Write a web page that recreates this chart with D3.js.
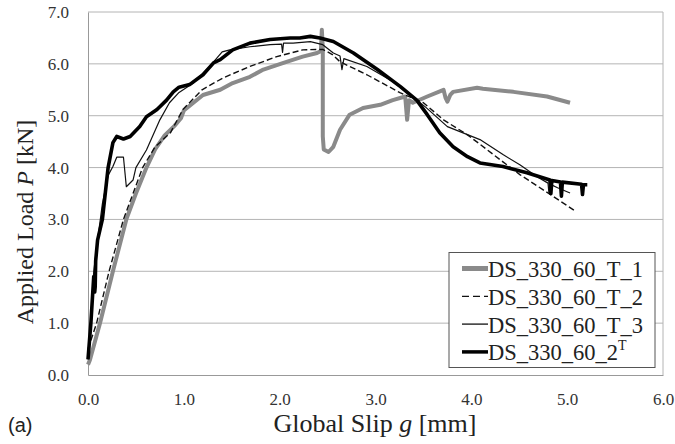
<!DOCTYPE html>
<html>
<head>
<meta charset="utf-8">
<script src="https://cdn.jsdelivr.net/npm/d3@7"></script>
<style>
  body { margin: 0; background: #fff; }
  svg { display: block; }
</style>
</head>
<body>
<svg class="chartSVG"></svg>
<script>
const svgWidth = 675;
const svgHeight = 444;
const serif = "'Liberation Serif', 'Times New Roman', 'DejaVu Serif', serif";

// tick labels
const xTicks = [0, 1, 2, 3, 4, 5, 6];
const yTicks = [0, 1, 2, 3, 4, 5, 6, 7];

// series names
const seriesNames = ["DS_330_60_T_1", "DS_330_60_T_2", "DS_330_60_T_3", "DS_330_60_2"];

// DS_330_60_T_1 (grey)
const slipT1 = [0, 0.02, 0.125, 0.26, 0.4, 0.5, 0.61, 0.7, 0.8, 0.9, 0.97, 1.0, 1.1, 1.2, 1.38, 1.51, 1.69, 1.83, 2.04, 2.24, 2.39, 2.43, 2.44, 2.45, 2.45, 2.46, 2.51, 2.56, 2.63, 2.73, 2.87, 3.05, 3.18, 3.31, 3.33, 3.35, 3.39, 3.54, 3.71, 3.73, 3.75, 3.78, 3.81, 4.06, 4.12, 4.44, 4.79, 5.03];
const loadT1 = [0.2, 0.29, 1.0, 2.0, 3.0, 3.5, 4.0, 4.35, 4.62, 4.8, 4.95, 5.1, 5.25, 5.4, 5.5, 5.63, 5.75, 5.89, 6.02, 6.14, 6.21, 6.25, 6.66, 6.3, 4.6, 4.35, 4.3, 4.4, 4.73, 5.02, 5.15, 5.21, 5.3, 5.37, 4.92, 5.3, 5.25, 5.37, 5.5, 5.35, 5.27, 5.4, 5.46, 5.54, 5.52, 5.46, 5.37, 5.25];

// DS_330_60_T_2 (dashed)
const slipT2 = [0, 0.09, 0.22, 0.37, 0.47, 0.57, 0.7, 0.86, 0.99, 1.19, 1.41, 1.69, 1.97, 2.24, 2.45, 2.55, 2.63, 2.91, 3.26, 3.5, 3.71, 3.96, 4.09, 4.33, 4.51, 4.75, 5.07];
const loadT2 = [0.5, 1.0, 2.0, 3.0, 3.5, 4.0, 4.4, 4.67, 5.12, 5.5, 5.73, 5.95, 6.14, 6.27, 6.28, 6.18, 6.04, 5.79, 5.44, 5.25, 4.92, 4.63, 4.45, 4.11, 3.86, 3.57, 3.18];

// DS_330_60_T_3 (thin)
const slipT3 = [0, 0.03, 0.06, 0.1, 0.15, 0.21, 0.26, 0.3, 0.37, 0.4, 0.47, 0.5, 0.61, 0.75, 0.85, 0.95, 1.1, 1.27, 1.4, 1.48, 1.69, 1.9, 2.02, 2.03, 2.04, 2.14, 2.32, 2.45, 2.56, 2.63, 2.65, 2.67, 2.91, 3.18, 3.43, 3.52, 3.75, 4.09, 4.33, 4.51, 4.69, 4.8, 4.81, 4.82, 4.9, 5.03];
const loadT3 = [0.3, 1.0, 2.0, 2.6, 3.3, 3.85, 4.02, 4.2, 4.2, 3.63, 3.76, 4.0, 4.34, 4.92, 5.25, 5.45, 5.63, 5.95, 6.23, 6.27, 6.33, 6.37, 6.38, 6.22, 6.4, 6.4, 6.43, 6.37, 6.21, 6.15, 5.89, 6.1, 5.95, 5.66, 5.3, 5.17, 4.79, 4.54, 4.25, 4.05, 3.82, 3.7, 3.5, 3.68, 3.61, 3.51];

// DS_330_60_2^T (thick black)
const slipT4 = [0, 0.03, 0.06, 0.07, 0.075, 0.08, 0.1, 0.15, 0.21, 0.26, 0.3, 0.37, 0.44, 0.54, 0.61, 0.72, 0.82, 0.89, 0.95, 1.06, 1.2, 1.31, 1.38, 1.51, 1.69, 1.9, 2.11, 2.21, 2.32, 2.42, 2.56, 2.77, 3.02, 3.26, 3.43, 3.54, 3.67, 3.81, 3.96, 4.09, 4.33, 4.58, 4.82, 4.83, 4.84, 4.93, 4.94, 4.95, 5.15, 5.16, 5.17, 5.21];
const loadT4 = [0.3, 1.0, 1.9, 1.6, 1.7, 2.2, 2.6, 3.0, 4.0, 4.48, 4.6, 4.55, 4.6, 4.79, 4.98, 5.12, 5.3, 5.46, 5.55, 5.6, 5.79, 6.02, 6.08, 6.27, 6.4, 6.47, 6.5, 6.5, 6.53, 6.5, 6.43, 6.21, 5.89, 5.56, 5.3, 5.02, 4.67, 4.4, 4.21, 4.09, 4.02, 3.9, 3.76, 3.5, 3.75, 3.72, 3.45, 3.72, 3.68, 3.48, 3.67, 3.67];

const margin = { top: 12, right: 12, bottom: 69, left: 88 };
const innerWidth = svgWidth - margin.left - margin.right;
const innerHeight = svgHeight - margin.top - margin.bottom;

const svg = d3.select('.chartSVG')
  .attr("width", svgWidth)
  .attr("height", svgHeight);

const graph = svg.append("g")
  .attr("transform", "translate(" + margin.left + "," + margin.top + ")");

const x = d3.scaleLinear().domain([0, 6]).range([0, innerWidth]);
const y = d3.scaleLinear().domain([0, 7]).range([innerHeight, 0]);

// horizontal grid
graph.append("g")
  .selectAll("line")
  .data(yTicks.slice(1))
  .enter().append("line")
    .attr("x1", 0)
    .attr("x2", innerWidth)
    .attr("y1", d => y(d))
    .attr("y2", d => y(d))
    .attr("stroke", "#b4b4b4")
    .attr("stroke-width", 1);

// right border of the plot area
graph.append("line")
  .attr("x1", innerWidth).attr("x2", innerWidth)
  .attr("y1", 0).attr("y2", innerHeight)
  .attr("stroke", "#b4b4b4");

// axes
const xAxis = graph.append("g")
  .attr("transform", "translate(0," + innerHeight + ")")
  .call(d3.axisBottom(x).tickValues(xTicks).tickFormat(d3.format(".1f")).tickSize(0).tickPadding(18));
const yAxis = graph.append("g")
  .call(d3.axisLeft(y).tickValues(yTicks).tickFormat(d3.format(".1f")).tickSize(0).tickPadding(19));

[xAxis, yAxis].forEach(function(a) {
  a.attr("font-family", serif).attr("font-size", 17);
  a.select(".domain").attr("stroke", "#999");
  a.selectAll("text").attr("fill", "#333");
});

// lines
const line = d3.line()
  .x(d => x(d[0]))
  .y(d => y(d[1]));

const series = [
  { name: seriesNames[0], pts: d3.zip(slipT1, loadT1), color: "#8a8a8a", width: 4, dash: null },
  { name: seriesNames[1], pts: d3.zip(slipT2, loadT2), color: "#111", width: 1.4, dash: "6,3" },
  { name: seriesNames[2], pts: d3.zip(slipT3, loadT3), color: "#111", width: 1.2, dash: null },
  { name: seriesNames[3], pts: d3.zip(slipT4, loadT4), color: "#000", width: 3.6, dash: null }
];

graph.append("g")
  .selectAll("path")
  .data(series)
  .enter().append("path")
    .attr("d", d => line(d.pts))
    .attr("fill", "none")
    .attr("stroke", d => d.color)
    .attr("stroke-width", d => d.width)
    .attr("stroke-dasharray", d => d.dash)
    .attr("stroke-linejoin", "round");

// axis titles
const yTitle = svg.append("text")
  .attr("transform", "translate(33,222) rotate(-90)")
  .attr("text-anchor", "middle")
  .attr("font-family", serif)
  .attr("font-size", 24)
  .attr("fill", "#222");
yTitle.append("tspan").text("Applied Load ");
yTitle.append("tspan").attr("font-style", "italic").text("P");
yTitle.append("tspan").text(" [kN]");

const xTitle = svg.append("text")
  .attr("x", 375)
  .attr("y", 432)
  .attr("text-anchor", "middle")
  .attr("font-family", serif)
  .attr("font-size", 26)
  .attr("fill", "#222");
xTitle.append("tspan").text("Global Slip ");
xTitle.append("tspan").attr("font-style", "italic").text("g");
xTitle.append("tspan").text(" [mm]");

svg.append("text")
  .attr("x", 8)
  .attr("y", 432)
  .attr("font-family", "'Liberation Sans', Arial, sans-serif")
  .attr("font-size", 20)
  .attr("fill", "#222")
  .text("(a)");

// legend
const legend = svg.append("g").attr("transform", "translate(449,252.5)");
legend.append("rect")
  .attr("width", 206)
  .attr("height", 115)
  .attr("fill", "#fff")
  .attr("stroke", "#555")
  .attr("stroke-width", 1);

const rows = legend.selectAll(".row")
  .data(series)
  .enter().append("g")
    .attr("transform", (d, i) => "translate(0," + (16 + i * 27.8) + ")");

rows.append("line")
  .attr("x1", 13).attr("x2", 39)
  .attr("y1", 0).attr("y2", 0)
  .attr("stroke", d => d.color)
  .attr("stroke-width", d => d.width === 4 ? 5 : (d.width > 3 ? 3.5 : 1.3))
  .attr("stroke-dasharray", d => d.dash ? "7,4" : null);

const labels = rows.append("text")
  .attr("x", 39)
  .attr("y", 8.5)
  .attr("font-family", serif)
  .attr("font-size", 22.5)
  .attr("fill", "#222")
  .text(d => d.name);

labels.filter((d, i) => i === 3)
  .append("tspan")
    .attr("font-size", 14)
    .attr("dy", -10)
    .text("T");
</script>
</body>
</html>
